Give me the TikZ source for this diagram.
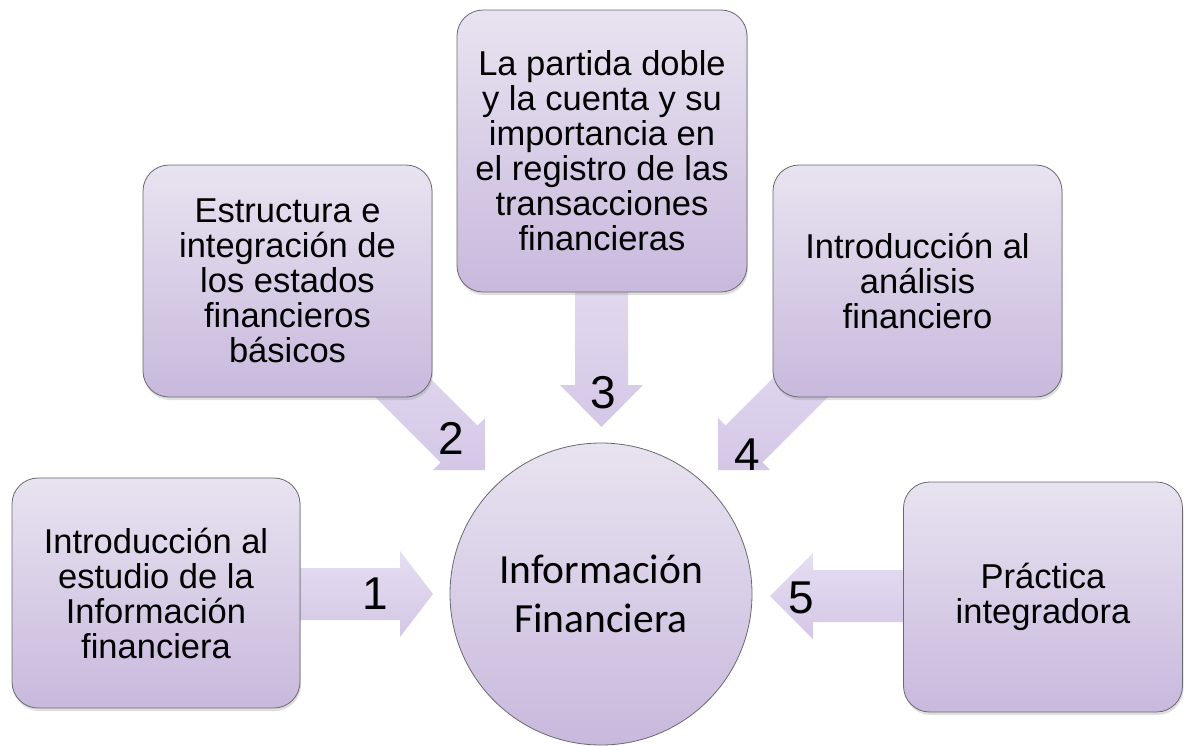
\documentclass[tikz,border=0pt]{standalone}
\usepackage{fontspec}
\setmainfont{Liberation Sans}
\newfontfamily\calib{Carlito}
\usetikzlibrary{shadows}
\definecolor{boxtop}{RGB}{232,227,240}
\definecolor{boxbot}{RGB}{200,185,221}
\definecolor{arrtop}{RGB}{229,222,241}
\definecolor{arrbot}{RGB}{212,199,231}
\definecolor{edgegray}{RGB}{105,105,110}
\tikzset{
  topicbox/.style={draw=edgegray, line width=0.8pt, rounded corners=26pt,
    top color=boxtop, bottom color=boxbot, align=center,
    font=\fontsize{34.5}{35}\selectfont, text=black,
    drop shadow={opacity=0.25, shadow xshift=1pt, shadow yshift=-3pt}},
  blockarrow/.style={top color=arrtop, bottom color=arrbot, draw=none},
  numlabel/.style={font=\fontsize{46}{46}\selectfont, text=black, inner sep=0pt},
}
\begin{document}
\begin{tikzpicture}[x=1pt,y=-1pt]
\useasboundingbox (0,0) rectangle (1185,745);

% block arrows (drawn beneath the boxes)
\coordinate (t1) at (433,594);
\coordinate (t2) at (485,470);
\coordinate (t3) at (601.5,427);
\coordinate (t4) at (718,470);
\coordinate (t5) at (770,596);

\path[blockarrow] (250,568) -- (400,568) -- (400,551) -- (t1) -- (400,637) -- (400,620) -- (250,620) -- cycle;
\path[blockarrow] (358.4,306.6) -- (477.4,425.6) -- (485,418) -- (t2) -- (433,470) -- (440.6,462.4) -- (321.6,343.4) -- cycle;
\path[blockarrow] (575,250) -- (575,385) -- (560,385) -- (t3) -- (643,385) -- (628,385) -- (628,250) -- cycle;
\path[blockarrow] (844.6,306.6) -- (725.6,425.6) -- (718,418) -- (t4) -- (770,470) -- (762.4,462.4) -- (881.4,343.4) -- cycle;
\path[blockarrow] (950,570) -- (813,570) -- (813,553) -- (t5) -- (813,639) -- (813,622) -- (950,622) -- cycle;

% boxes
\node[topicbox, minimum width=288pt, minimum height=230pt] (b1) at (156,593)
  {Introducción al\\estudio de la\\Información\\financiera};
\node[topicbox, minimum width=289pt, minimum height=232pt] (b2) at (287.5,281)
  {Estructura e\\integración de\\los estados\\financieros\\básicos};
\node[topicbox, minimum width=290pt, minimum height=282pt] (b3) at (602,151)
  {La partida doble\\y la cuenta y su\\importancia en\\el registro de las\\transacciones\\financieras};
\node[topicbox, minimum width=289pt, minimum height=232pt] (b4) at (917.5,281)
  {Introducción al\\análisis\\financiero};
\node[topicbox, minimum width=279pt, minimum height=230pt] (b5) at (1043,597)
  {Práctica\\integradora};

% central circle
\node[circle, draw=edgegray, line width=0.8pt, minimum size=302pt, inner sep=0pt,
  top color=boxtop, bottom color=boxbot, align=center,
  font=\calib\fontsize{41.5}{49}\selectfont] (c) at (601,594)
  {Información\\Financiera};

% number labels
\node[numlabel] (n1) at (375,594) {1};
\node[numlabel] (n2) at (451,438) {2};
\node[numlabel] (n3) at (603,393) {3};
\node[numlabel] (n4) at (747,455) {4};
\node[numlabel] (n5) at (801,598) {5};
\end{tikzpicture}
\end{document}
